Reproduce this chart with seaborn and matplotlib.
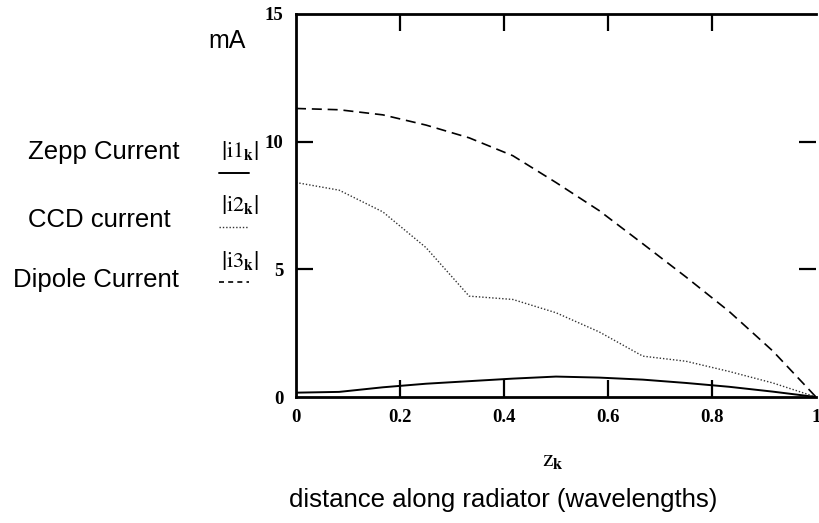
import numpy as np
import pandas as pd
import seaborn as sns
import matplotlib.pyplot as plt
from matplotlib.lines import Line2D

# sample points along the radiator (wavelengths)
z = [0, 0.083, 0.167, 0.25, 0.333, 0.417, 0.5, 0.583, 0.667, 0.75, 0.833, 0.917, 1.0]
# currents in mA
zepp = [0.17, 0.2, 0.38, 0.52, 0.62, 0.72, 0.8, 0.76, 0.68, 0.55, 0.4, 0.21, 0.0]
ccd = [8.4, 8.1, 7.25, 5.85, 3.95, 3.82, 3.3, 2.55, 1.6, 1.4, 1.0, 0.55, 0.0]
dipole = [11.3, 11.25, 11.05, 10.65, 10.15, 9.45, 8.4, 7.3, 6.0, 4.7, 3.35, 1.8, 0.0]

names = ["Zepp Current", "CCD current", "Dipole Current"]
keys = [r"$\left|\mathrm{i1}_{\mathbf{k}}\right|$",
        r"$\left|\mathrm{i2}_{\mathbf{k}}\right|$",
        r"$\left|\mathrm{i3}_{\mathbf{k}}\right|$"]
y_ticks = [0, 5, 10, 15]
x_ticks = [0, 0.2, 0.4, 0.6, 0.8, 1]
x_tick_labels = ["0", "0.2", "0.4", "0.6", "0.8", "1"]

sns.set_theme(style="white")
plt.rcParams["font.family"] = ["Liberation Sans", "DejaVu Sans"]
plt.rcParams["mathtext.fontset"] = "stix"

W, H = 820, 523
fig = plt.figure(figsize=(W / 100, H / 100), dpi=100)
ax = fig.add_axes([296 / W, 1 - 397 / H, 520 / W, 383 / H])

df = pd.DataFrame({"z": z, "zepp": zepp, "ccd": ccd, "dipole": dipole})
sns.lineplot(data=df, x="z", y="zepp", ax=ax, color="black", lw=1.4, estimator=None)
sns.lineplot(data=df, x="z", y="ccd", ax=ax, color="#333333", lw=1.0,
             linestyle=(0, (1, 1.4)), estimator=None)
sns.lineplot(data=df, x="z", y="dipole", ax=ax, color="black", lw=1.2,
             linestyle=(0, (6, 3.5)), estimator=None)

ax.set_xlim(0, 1)
ax.set_ylim(0, 15)
ax.set_xlabel("")
ax.set_ylabel("")

ax.set_xticks(x_ticks)
ax.set_xticklabels(x_tick_labels)
ax.set_yticks(y_ticks)
ax.set_yticklabels([str(v) for v in y_ticks])
ax.tick_params(direction="in", length=12.5, width=1.6, color="black", pad=9,
               top=True, bottom=True, left=True, right=True)
# no marks at the corners, only the inner ticks
for axis in [ax.xaxis, ax.yaxis]:
    ticks = axis.get_major_ticks()
    for t in [ticks[0], ticks[-1]]:
        t.tick1line.set_visible(False)
        t.tick2line.set_visible(False)
for lab in ax.get_xticklabels() + ax.get_yticklabels():
    lab.set_family("Liberation Serif")
    lab.set_fontweight("bold")
    lab.set_fontsize(13.5)
    lab.set_color("black")

for side in ["left", "bottom", "top"]:
    ax.spines[side].set_color("black")
    ax.spines[side].set_linewidth(2.0)
ax.spines["right"].set_visible(False)

# legend-like labels on the left
fig.text(227 / W, 1 - 41 / H, "mA", ha="center", va="center", fontsize=18, color="black")
text_x = [28, 28, 13]
text_base = [159, 227, 287]
key_y = [150, 204, 260]
line_y = [173, 227, 282]
styles = [dict(color="black", lw=1.4, linestyle="-"),
          dict(color="#333333", lw=1.0, linestyle=(0, (1, 1.4))),
          dict(color="black", lw=1.2, linestyle=(0, (3, 2.5)))]
for i in range(3):
    fig.text(text_x[i] / W, 1 - text_base[i] / H, names[i], ha="left", va="baseline",
             fontsize=18.5, color="black")
    fig.text(240 / W, 1 - key_y[i] / H, keys[i], ha="center", va="center",
             fontsize=16, color="black")
    fig.add_artist(Line2D([219 / W, 249 / W], [1 - line_y[i] / H] * 2, **styles[i]))

fig.text(553 / W, 1 - 461 / H, r"$\mathrm{z}_{\mathbf{k}}$", ha="center", va="center",
         fontsize=17, color="black")
fig.text(503 / W, 1 - 500 / H, "distance along radiator (wavelengths)", ha="center",
         va="center", fontsize=18.5, color="black")

fig.savefig("out.png", dpi=100)
